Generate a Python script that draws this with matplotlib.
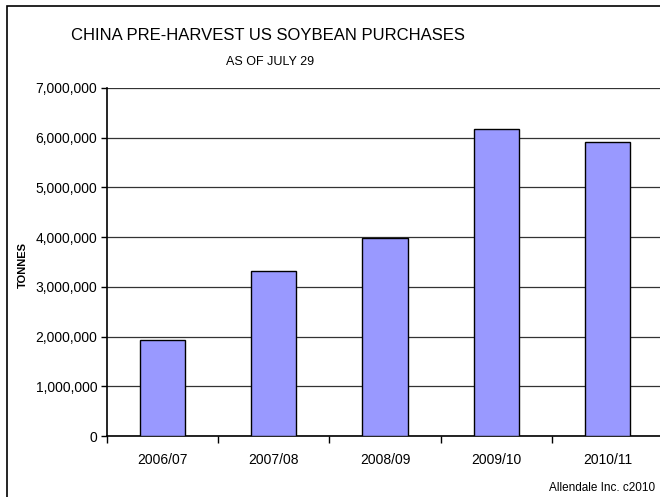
import matplotlib
matplotlib.use("Agg")
import matplotlib.pyplot as plt
from matplotlib.patches import Rectangle
from matplotlib.ticker import FuncFormatter, FixedLocator
import numpy as np

plt.rcParams['font.family'] = ['Liberation Sans', 'DejaVu Sans']

seasons = ['2006/07', '2007/08', '2008/09', '2009/10', '2010/11']
purchases = [1930000, 3310000, 3990000, 6180000, 5910000]

fig = plt.figure(figsize=(6.6, 4.97), dpi=100)
ax = fig.add_axes([107 / 660, 61 / 497, 556 / 660, 348 / 497])

x = np.arange(len(seasons))
ax.bar(x, purchases, width=0.405, color='#9999FF', edgecolor='black', linewidth=1.0, zorder=3)

ax.set_xlim(-0.5, len(seasons) - 0.5)
ax.set_ylim(0, 7000000)
ax.set_yticks(np.arange(0, 7000001, 1000000))
ax.yaxis.set_major_formatter(FuncFormatter(lambda v, p: f'{int(v):,}'))
ax.yaxis.grid(True, color='#333333', linewidth=0.9, zorder=0)

ax.set_xticks(x)
ax.set_xticklabels(seasons, fontsize=10)
ax.xaxis.set_minor_locator(FixedLocator(np.arange(-0.5, len(seasons), 1.0)))
ax.tick_params(axis='x', which='major', length=0, pad=12)
ax.tick_params(axis='x', which='minor', length=5, width=1, direction='out')
ax.tick_params(axis='y', length=4, width=1, direction='out', labelsize=10, pad=3)

for s in ['top', 'right']:
    ax.spines[s].set_visible(False)
ax.spines['left'].set_linewidth(1.2)
ax.spines['bottom'].set_linewidth(1.2)

ax.set_ylabel('TONNES', fontsize=8, fontweight='bold')
ax.yaxis.set_label_coords((28 - 107) / 556, (497 - 265 - 61) / 348)

fig.text(268 / 660, 1 - 35 / 497, 'CHINA PRE-HARVEST US SOYBEAN PURCHASES', ha='center', va='center', fontsize=12)
fig.text(270 / 660, 1 - 62 / 497, 'AS OF JULY 29', ha='center', va='center', fontsize=9)
fig.text(655 / 660, 1 - 488 / 497, 'Allendale Inc. c2010', ha='right', va='center', fontsize=8.5)

fig.patches.append(Rectangle((7 / 660, -0.1), 1.2, 491 / 497 + 0.1, transform=fig.transFigure,
                             fill=False, edgecolor='black', linewidth=1.2, clip_on=False))

fig.savefig('out.png', dpi=100)
